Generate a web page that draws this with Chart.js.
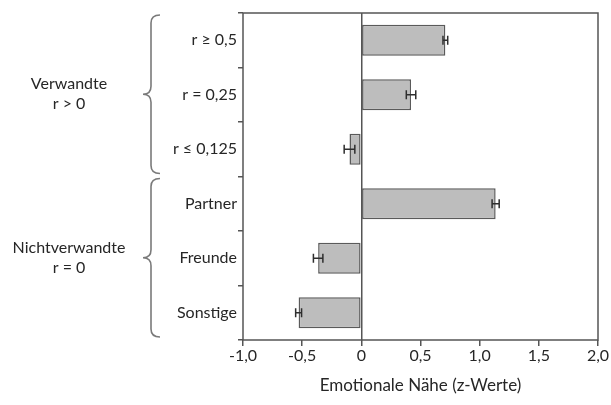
<!DOCTYPE html>
<html>
<head>
<meta charset="utf-8">
<script src="https://cdn.jsdelivr.net/npm/chart.js@4"></script>
<style>
  html, body { margin: 0; padding: 0; background: #fff; }
  #wrap { width: 611px; height: 405px; }
</style>
</head>
<body>
<div id="wrap"><canvas id="chart" width="611" height="405"></canvas></div>
<script>
const categories = ['r ≥ 0,5', 'r = 0,25', 'r ≤ 0,125', 'Partner', 'Freunde', 'Sonstige'];
const values = [0.71, 0.42, -0.10, 1.135, -0.365, -0.53];
const errors = [0.02, 0.04, 0.045, 0.03, 0.04, 0.025];
const xTickLabels = ['-1,0', '-0,5', '0', '0,5', '1,0', '1,5', '2,0'];
const groups = [
    { lines: ['Verwandte', 'r > 0'], from: 0, to: 2 },
    { lines: ['Nichtverwandte', 'r = 0'], from: 3, to: 5 }
];

const FONT = 'Lato';
const TEXT = '#262626';
const LINE = '#555555';

// frame round the plot area
const framePlugin = {
    id: 'frame',
    afterDraw(chart) {
        const { ctx, chartArea: a } = chart;
        ctx.save();
        ctx.strokeStyle = LINE;
        ctx.lineWidth = 1.5;
        ctx.strokeRect(a.left, a.top, a.right - a.left, a.bottom - a.top);
        ctx.restore();
    }
};

const errorBarPlugin = {
    id: 'errorBars',
    afterDatasetsDraw(chart) {
        const { ctx, scales: { x, y } } = chart;
        ctx.save();
        ctx.strokeStyle = '#2e2e2e';
        ctx.lineWidth = 1.5;
        values.forEach((v, i) => {
            const cy = y.getPixelForValue(i);
            const x1 = x.getPixelForValue(v - errors[i]);
            const x2 = x.getPixelForValue(v + errors[i]);
            ctx.beginPath();
            ctx.moveTo(x1, cy); ctx.lineTo(x2, cy);
            ctx.moveTo(x1, cy - 4.5); ctx.lineTo(x1, cy + 4.5);
            ctx.moveTo(x2, cy - 4.5); ctx.lineTo(x2, cy + 4.5);
            ctx.stroke();
        });
        ctx.restore();
    }
};

// curly braces and group labels on the left
const bracePlugin = {
    id: 'braces',
    afterDraw(chart) {
        const { ctx, scales: { y } } = chart;
        const band = y.getPixelForValue(1) - y.getPixelForValue(0);
        const xEnd = 160, xMid = 151, xTip = 143, r = 8;
        ctx.save();
        groups.forEach(g => {
            const top = y.getPixelForValue(g.from) - band / 2 + 2;
            const bottom = y.getPixelForValue(g.to) + band / 2 - 3;
            const tip = (top + bottom) / 2;
            ctx.strokeStyle = '#7a7a7a';
            ctx.lineWidth = 1.6;
            ctx.beginPath();
            ctx.moveTo(xEnd, top);
            ctx.quadraticCurveTo(xMid, top, xMid, top + r);
            ctx.lineTo(xMid, tip - r);
            ctx.quadraticCurveTo(xMid, tip, xTip, tip);
            ctx.quadraticCurveTo(xMid, tip, xMid, tip + r);
            ctx.lineTo(xMid, bottom - r);
            ctx.quadraticCurveTo(xMid, bottom, xEnd, bottom);
            ctx.stroke();

            ctx.fillStyle = TEXT;
            ctx.font = '16px ' + FONT;
            ctx.textAlign = 'center';
            ctx.textBaseline = 'middle';
            ctx.fillText(g.lines[0], 69, tip - 10);
            ctx.fillText(g.lines[1], 69, tip + 10);
        });
        ctx.restore();
    }
};

new Chart(document.getElementById('chart'), {
    type: 'bar',
    data: {
        labels: categories,
        datasets: [{
            data: values,
            backgroundColor: '#bdbdbd',
            borderColor: '#5a5a5a',
            borderWidth: 1.5,
            borderSkipped: false,
            categoryPercentage: 1,
            barPercentage: 0.57
        }]
    },
    options: {
        indexAxis: 'y',
        responsive: false,
        animation: false,
        layout: { padding: { top: 13, right: 13, left: 0, bottom: 0 } },
        plugins: { legend: { display: false }, tooltip: { enabled: false } },
        scales: {
            x: {
                min: -1, max: 2,
                afterFit: s => { s.height = 65; },
                ticks: {
                    stepSize: 0.5,
                    color: TEXT,
                    font: { family: FONT, size: 16 },
                    padding: 0,
                    maxRotation: 0,
                    callback: (v, i) => xTickLabels[i]
                },
                grid: {
                    drawOnChartArea: true,
                    color: c => (c.tick && c.tick.value === 0 ? LINE : 'rgba(0,0,0,0)'),
                    lineWidth: 1.5,
                    tickColor: LINE,
                    tickLength: 6
                },
                border: { display: false },
                title: {
                    display: true,
                    text: 'Emotionale Nähe (z-Werte)',
                    color: TEXT,
                    font: { family: FONT, size: 17 },
                    padding: { top: 9, bottom: 9 }
                }
            },
            y: {
                afterFit: s => { s.width = 243; },
                ticks: {
                    color: TEXT,
                    font: { family: FONT, size: 16 },
                    padding: 1
                },
                grid: {
                    offset: true,
                    drawOnChartArea: false,
                    tickColor: LINE,
                    tickLength: 5,
                    lineWidth: 1.5
                },
                border: { display: false }
            }
        }
    },
    plugins: [framePlugin, errorBarPlugin, bracePlugin]
});
</script>
</body>
</html>
